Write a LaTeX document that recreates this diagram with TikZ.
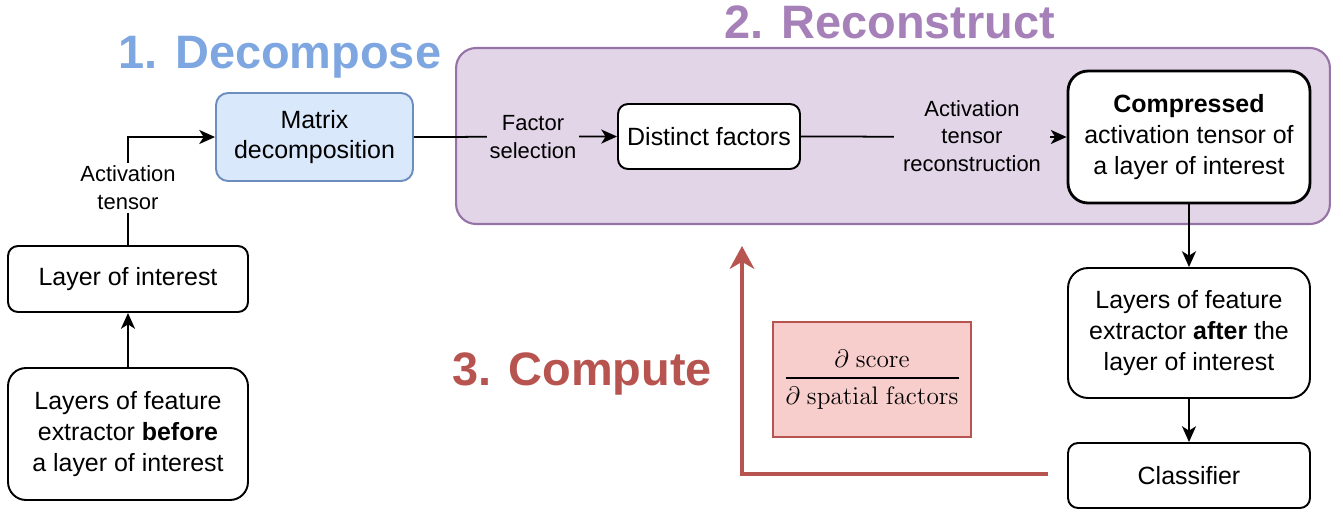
\documentclass[tikz,border=0pt]{standalone}
\usepackage[no-math]{fontspec}
\setmainfont{Liberation Sans}
\usepackage{amsmath}
\usetikzlibrary{arrows.meta}
\definecolor{decblue}{HTML}{7EA6E0}
\definecolor{recpurple}{HTML}{A680B8}
\definecolor{comred}{HTML}{B85450}
\definecolor{purplefill}{HTML}{E1D5E7}
\definecolor{purpleline}{HTML}{9673A6}
\definecolor{bluefill}{HTML}{DAE8FC}
\definecolor{blueline}{HTML}{6C8EBF}
\definecolor{redfill}{HTML}{F8CECC}
\begin{document}
\begin{tikzpicture}[x=0.02cm,y=-0.02cm,
  box/.style={draw=black, line width=1.1pt, fill=white, align=center, inner sep=0pt,
    font=\fontsize{14.2}{17.5}\selectfont},
  lbl/.style={align=center, inner sep=1.5pt, font=\fontsize{12.5}{15.8}\selectfont},
  title/.style={font=\fontsize{26.7}{30}\selectfont\bfseries},
  arr/.style={line width=1pt, -{Stealth[length=9pt, width=8pt, inset=2.5pt]}},
  ln/.style={line width=1pt}
]
\useasboundingbox (0,0) rectangle (1343,511);
% container
\node[draw=purpleline, fill=purplefill, line width=1.2pt, rounded corners=0.4cm,
  minimum width=17.48cm, minimum height=3.52cm, inner sep=0pt] (cont) at (893,136) {};
% titles
\node[title, text=decblue] (t1) at (280,57) {1. Decompose};
\node[title, text=recpurple] (t2) at (890,22) {2. Reconstruct};
\node[title, text=comred] (t3) at (582,374) {3. Compute};
% boxes
\node[box, draw=blueline, fill=bluefill, rounded corners=0.24cm,
  minimum width=3.94cm, minimum height=1.76cm] (mat) at (314.5,137) {Matrix\\decomposition};
\node[box, rounded corners=0.2cm, minimum width=4.8cm, minimum height=1.32cm] (layer) at (128,279) {Layer of interest};
\node[box, rounded corners=0.36cm, minimum width=4.8cm, minimum height=2.64cm] (before) at (128,434)
  {Layers of feature\\extractor \textbf{before}\\a layer of interest};
\node[box, rounded corners=0.2cm, minimum width=3.64cm, minimum height=1.3cm] (dist) at (709,136.5) {Distinct factors};
\node[box, line width=1.6pt, rounded corners=0.4cm, minimum width=4.84cm, minimum height=2.64cm] (comp) at (1189,137)
  {\textbf{Compressed}\\activation tensor of\\a layer of interest};
\node[box, rounded corners=0.4cm, minimum width=4.84cm, minimum height=2.6cm] (after) at (1189,333)
  {Layers of feature\\extractor \textbf{after} the\\layer of interest};
\node[box, rounded corners=0.2cm, minimum width=4.84cm, minimum height=1.3cm] (cls) at (1189,475.5) {Classifier};
\node[draw=comred, fill=redfill, line width=0.6pt, minimum width=3.96cm, minimum height=2.3cm, inner sep=0pt,
  font=\fontsize{15.2}{18}\selectfont] (frac) at (872,379.5)
  {$\genfrac{}{}{1.4pt}{0}{\partial\;\mathrm{score}}{\partial\;\mathrm{spatial\ factors}}$};
% connectors
\draw[arr] (before.north) -- (layer.south);
\coordinate (bend1) at (128,137);
\draw[arr] (layer.north) -- (bend1) -- (mat.west);
\node[lbl, fill=white] (lact) at (128,188) {Activation\\tensor};
\draw[arr] (mat.east) -- (dist.west);
\node[lbl, fill=purplefill] (lfac) at (533,137) {Factor\\selection};
\draw[arr] (dist.east) -- (comp.west);
\node[lbl, fill=purplefill, inner xsep=5pt] (lrec) at (972,136) {Activation\\tensor\\reconstruction};
\draw[arr] (comp.south) -- (after.north);
\draw[arr] (after.south) -- (cls.north);
% red feedback arrow
\coordinate (rstart) at (1048,474);
\coordinate (rcorner) at (742,474);
\coordinate (rend) at (742,246);
\draw[draw=comred, line width=2.4pt, -{Stealth[length=13pt, width=14pt, inset=4pt]}]
  (rstart) -- (rcorner) -- (rend);
\end{tikzpicture}
\end{document}
